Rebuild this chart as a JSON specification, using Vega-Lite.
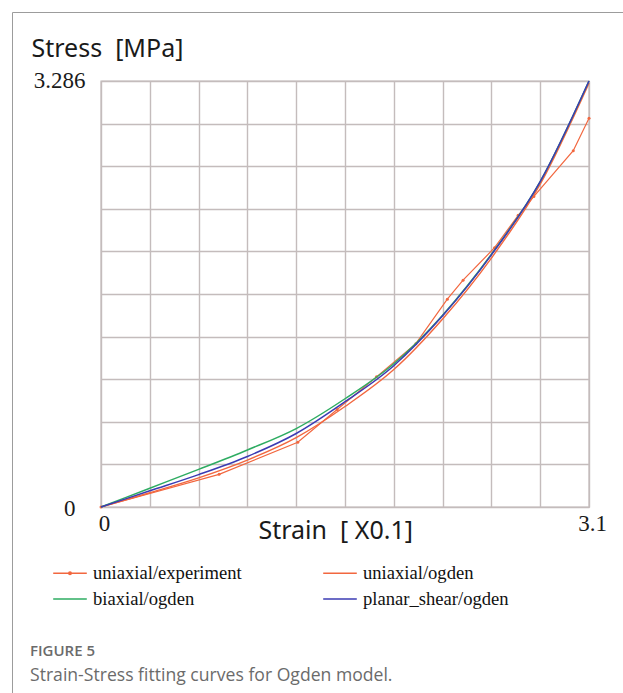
{
  "$schema": "https://vega.github.io/schema/vega-lite/v6.json",
  "autosize": "none",
  "width": 488,
  "height": 426,
  "padding": {"left": 101, "top": 81, "right": 34, "bottom": 186},
  "background": "white",
  "title": {
    "text": "FIGURE 5",
    "subtitle": "Strain-Stress fitting curves for Ogden model.",
    "orient": "bottom",
    "anchor": "start",
    "frame": "group",
    "dx": -71,
    "offset": -171,
    "font": "Open Sans",
    "fontSize": 15,
    "fontWeight": 600,
    "color": "#6b6b6b",
    "subtitleFont": "Open Sans",
    "subtitleFontSize": 17.6,
    "subtitleColor": "#6b6b6b",
    "subtitlePadding": 8
  },
  "data": {
    "values": [
      {"series": "uniaxial/experiment", "strain": 0, "stress": 0},
      {"series": "uniaxial/experiment", "strain": 0.75, "stress": 0.252},
      {"series": "uniaxial/experiment", "strain": 1.25, "stress": 0.499},
      {"series": "uniaxial/experiment", "strain": 1.5, "stress": 0.752},
      {"series": "uniaxial/experiment", "strain": 1.75, "stress": 1.004},
      {"series": "uniaxial/experiment", "strain": 2.0, "stress": 1.26},
      {"series": "uniaxial/experiment", "strain": 2.2, "stress": 1.603},
      {"series": "uniaxial/experiment", "strain": 2.3, "stress": 1.75},
      {"series": "uniaxial/experiment", "strain": 2.5, "stress": 2.0},
      {"series": "uniaxial/experiment", "strain": 2.65, "stress": 2.25},
      {"series": "uniaxial/experiment", "strain": 2.75, "stress": 2.396},
      {"series": "uniaxial/experiment", "strain": 3.0, "stress": 2.748},
      {"series": "uniaxial/experiment", "strain": 3.1, "stress": 2.998},
      {"series": "uniaxial/ogden", "strain": 0, "stress": 0},
      {"series": "uniaxial/ogden", "strain": 0.31, "stress": 0.11},
      {"series": "uniaxial/ogden", "strain": 0.62, "stress": 0.225},
      {"series": "uniaxial/ogden", "strain": 0.93, "stress": 0.362},
      {"series": "uniaxial/ogden", "strain": 1.24, "stress": 0.535},
      {"series": "uniaxial/ogden", "strain": 1.55, "stress": 0.775},
      {"series": "uniaxial/ogden", "strain": 1.86, "stress": 1.06},
      {"series": "uniaxial/ogden", "strain": 2.17, "stress": 1.45},
      {"series": "uniaxial/ogden", "strain": 2.48, "stress": 1.92},
      {"series": "uniaxial/ogden", "strain": 2.79, "stress": 2.49},
      {"series": "uniaxial/ogden", "strain": 3.1, "stress": 3.27},
      {"series": "biaxial/ogden", "strain": 0, "stress": 0},
      {"series": "biaxial/ogden", "strain": 0.31, "stress": 0.145},
      {"series": "biaxial/ogden", "strain": 0.62, "stress": 0.29},
      {"series": "biaxial/ogden", "strain": 0.93, "stress": 0.44},
      {"series": "biaxial/ogden", "strain": 1.24, "stress": 0.605},
      {"series": "biaxial/ogden", "strain": 1.55, "stress": 0.835},
      {"series": "biaxial/ogden", "strain": 1.86, "stress": 1.105},
      {"series": "biaxial/ogden", "strain": 2.17, "stress": 1.48},
      {"series": "biaxial/ogden", "strain": 2.48, "stress": 1.95},
      {"series": "biaxial/ogden", "strain": 2.79, "stress": 2.51},
      {"series": "biaxial/ogden", "strain": 3.1, "stress": 3.286},
      {"series": "planar_shear/ogden", "strain": 0, "stress": 0},
      {"series": "planar_shear/ogden", "strain": 0.31, "stress": 0.125},
      {"series": "planar_shear/ogden", "strain": 0.62, "stress": 0.25},
      {"series": "planar_shear/ogden", "strain": 0.93, "stress": 0.39},
      {"series": "planar_shear/ogden", "strain": 1.24, "stress": 0.567},
      {"series": "planar_shear/ogden", "strain": 1.55, "stress": 0.812},
      {"series": "planar_shear/ogden", "strain": 1.86, "stress": 1.09},
      {"series": "planar_shear/ogden", "strain": 2.17, "stress": 1.475},
      {"series": "planar_shear/ogden", "strain": 2.48, "stress": 1.945},
      {"series": "planar_shear/ogden", "strain": 2.79, "stress": 2.51},
      {"series": "planar_shear/ogden", "strain": 3.1, "stress": 3.286}
    ]
  },
  "encoding": {
    "x": {
      "field": "strain",
      "type": "quantitative",
      "scale": {"domain": [0, 3.1], "nice": false, "zero": false},
      "axis": {
        "values": [0, 0.31, 0.62, 0.93, 1.24, 1.55, 1.86, 2.17, 2.48, 2.79, 3.1],
        "labelExpr": "datum.value == 0 ? '0' : (datum.value > 3.09 ? '3.1' : '')",
        "grid": true,
        "ticks": false,
        "domain": false,
        "labelFlush": false,
        "labelOverlap": false,
        "labelFont": "Liberation Serif",
        "labelFontSize": 23,
        "labelColor": "#1a1a1a",
        "labelBaseline": "alphabetic",
        "labelPadding": 23,
        "labelOffset": 3,
        "title": "Strain\u00a0 [ X0.1]",
        "titleFont": "Noto Sans",
        "titleFontSize": 25,
        "titleFontWeight": "normal",
        "titleColor": "#1a1a1a",
        "titleAlign": "left",
        "titleBaseline": "alphabetic",
        "titleX": 157,
        "titleY": 31
      }
    },
    "y": {
      "field": "stress",
      "type": "quantitative",
      "scale": {"domain": [0, 3.286], "nice": false, "zero": false},
      "axis": {
        "values": [0, 0.3286, 0.6572, 0.9858, 1.3144, 1.643, 1.9716, 2.3002, 2.6288, 2.9574, 3.286],
        "labelExpr": "datum.value == 0 ? '0' : (datum.value > 3.28 ? '3.286' : '')",
        "grid": true,
        "ticks": false,
        "domain": false,
        "labelFlush": false,
        "labelOverlap": false,
        "labelFont": "Liberation Serif",
        "labelFontSize": 23,
        "labelColor": "#1a1a1a",
        "labelBaseline": "alphabetic",
        "labelPadding": {"condition": {"test": "datum.value == 0", "value": 26}, "value": 16},
        "labelOffset": {"condition": {"test": "datum.value == 0", "value": 8}, "value": 6},
        "title": "Stress\u00a0 [MPa]",
        "titleFont": "Noto Sans",
        "titleFontSize": 25,
        "titleFontWeight": "normal",
        "titleColor": "#1a1a1a",
        "titleAngle": 0,
        "titleAlign": "left",
        "titleBaseline": "alphabetic",
        "titleX": -70,
        "titleY": -25
      }
    },
    "color": {
      "field": "series",
      "type": "nominal",
      "scale": {
        "domain": ["uniaxial/experiment", "biaxial/ogden", "uniaxial/ogden", "planar_shear/ogden"],
        "range": ["#f2673f", "#2eac62", "#f2673f", "#3b3bb3"]
      },
      "legend": {
        "orient": "none",
        "legendX": -46,
        "legendY": 477,
        "columns": 2,
        "title": null,
        "padding": 0,
        "symbolSize": 784,
        "symbolStrokeWidth": 1.5,
        "labelFont": "Liberation Serif",
        "labelFontSize": 18.6,
        "labelColor": "#111111",
        "labelOffset": 8,
        "labelLimit": 400,
        "columnPadding": 78,
        "rowPadding": 1,
        "encode": {
          "symbols": {
            "update": {
              "shape": {"signal": "datum.value === 'uniaxial/experiment' ? 'M-1.2,0H1.2M0.09,0A0.09,0.09,0,1,1,-0.09,0A0.09,0.09,0,1,1,0.09,0' : 'M-1.2,0H1.2'"}
            }
          }
        }
      }
    }
  },
  "layer": [
    {
      "transform": [{"filter": "datum.series === 'uniaxial/experiment'"}],
      "mark": {"type": "line", "strokeWidth": 1.2}
    },
    {
      "transform": [{"filter": "datum.series === 'uniaxial/experiment'"}],
      "mark": {"type": "point", "filled": true, "size": 9, "opacity": 1}
    },
    {
      "transform": [{"filter": "datum.series === 'uniaxial/ogden'"}],
      "mark": {"type": "line", "strokeWidth": 1.4, "interpolate": "monotone"}
    },
    {
      "transform": [{"filter": "datum.series === 'biaxial/ogden'"}],
      "mark": {"type": "line", "strokeWidth": 1.5, "interpolate": "monotone"}
    },
    {
      "transform": [{"filter": "datum.series === 'planar_shear/ogden'"}],
      "mark": {"type": "line", "strokeWidth": 1.5, "interpolate": "monotone"}
    },
    {
      "transform": [{"filter": "datum.series === 'biaxial/ogden' && datum.strain == 0"}],
      "mark": {"type": "point", "opacity": 0},
      "encoding": {
        "color": {"value": "transparent"},
        "shape": {
          "field": "strain",
          "type": "nominal",
          "legend": {
            "orient": "none",
            "legendX": -89,
            "legendY": -69,
            "padding": 400,
            "title": null,
            "strokeColor": "#9c9c9c",
            "symbolSize": 1,
            "symbolOpacity": 0,
            "labelOpacity": 0,
            "labelFontSize": 1
          }
        }
      }
    }
  ],
  "config": {
    "view": {"stroke": "#c4bcbc", "strokeWidth": 1.4},
    "axis": {"gridColor": "#c4bcbc", "gridWidth": 1.4, "gridOpacity": 1}
  }
}
